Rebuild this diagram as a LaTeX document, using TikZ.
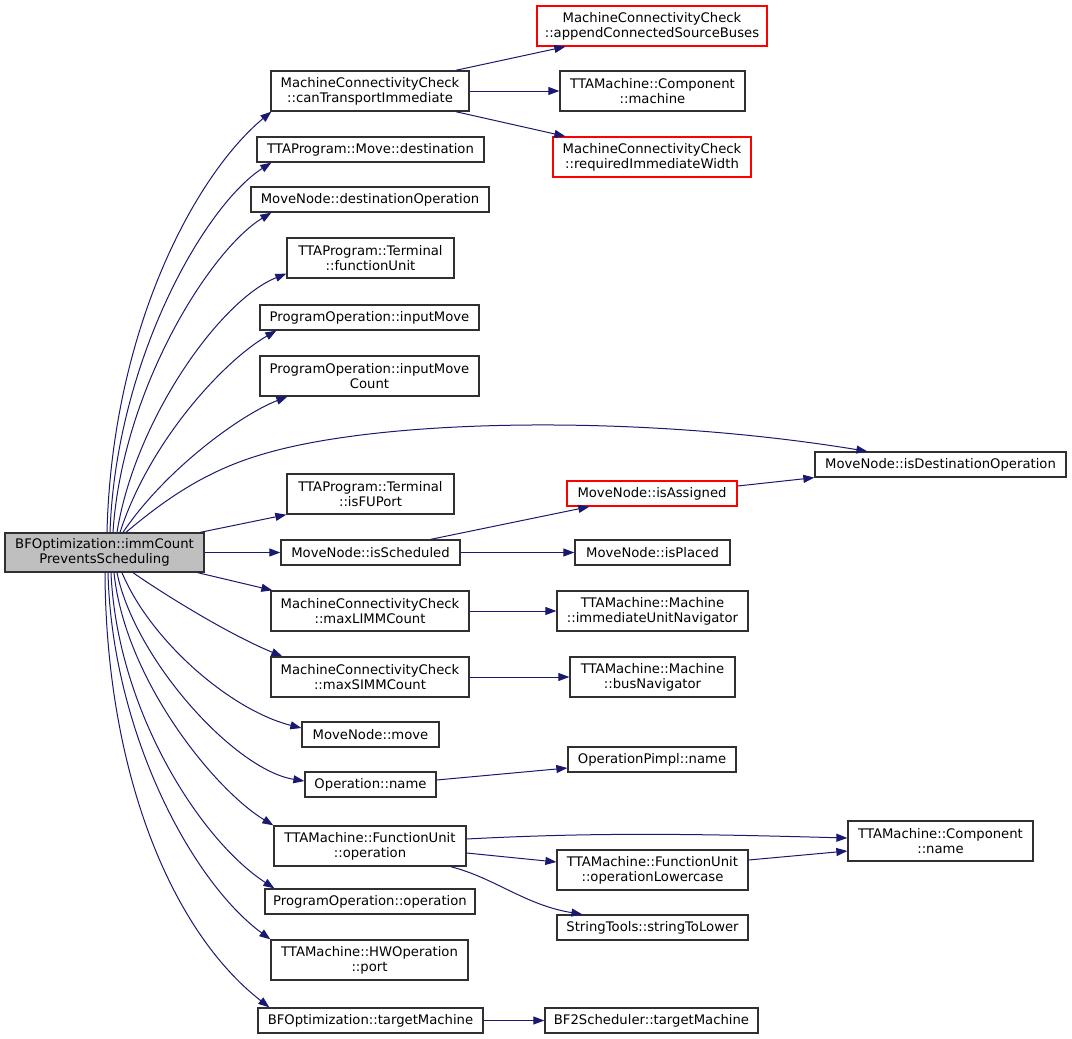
\documentclass[tikz,border=0pt]{standalone}
\usepackage{fontspec}
\setmainfont{DejaVu Sans}
\usetikzlibrary{arrows.meta}
\definecolor{edgec}{HTML}{191970}
\definecolor{boxc}{HTML}{303030}
\definecolor{rootc}{HTML}{BFBFBF}
\begin{document}
\begin{tikzpicture}[x=1pt,y=-1pt,
  box/.style={draw=boxc, line width=1.3pt, fill=white, inner sep=0pt, align=center,
    font=\fontsize{13.2pt}{15pt}\selectfont, text=black},
  redbox/.style={box, draw=red},
  rootbox/.style={box, fill=rootc},
  e/.style={draw=edgec, line width=1pt, -{Triangle[length=11pt,width=8pt]}}]
\useasboundingbox[fill=white] (0,0) rectangle (1072,1039);

% root
\node[rootbox, minimum width=199pt, minimum height=39pt] (root) at (104.5,552.5) {BFOptimization::immCount\\PreventsScheduling};

% middle column
\node[box, minimum width=198pt, minimum height=40pt] (n1) at (370,91) {MachineConnectivityCheck\\::canTransportImmediate};
\node[box, minimum width=227pt, minimum height=25pt] (n2) at (370.5,149.5) {TTAProgram::Move::destination};
\node[box, minimum width=238pt, minimum height=25pt] (n3) at (370,199.5) {MoveNode::destinationOperation};
\node[box, minimum width=167pt, minimum height=40pt] (n4) at (370.5,258) {TTAProgram::Terminal\\::functionUnit};
\node[box, minimum width=219pt, minimum height=25pt] (n5) at (369.5,317.5) {ProgramOperation::inputMove};
\node[box, minimum width=219pt, minimum height=40pt] (n6) at (369.5,376) {ProgramOperation::inputMove\\Count};
\node[box, minimum width=167pt, minimum height=40pt] (n7) at (370.5,494) {TTAProgram::Terminal\\::isFUPort};
\node[box, minimum width=179pt, minimum height=25pt] (n8) at (370.5,552.5) {MoveNode::isScheduled};
\node[box, minimum width=198pt, minimum height=40pt] (n9) at (370,611) {MachineConnectivityCheck\\::maxLIMMCount};
\node[box, minimum width=198pt, minimum height=40pt] (n10) at (370,677) {MachineConnectivityCheck\\::maxSIMMCount};
\node[box, minimum width=137pt, minimum height=25pt] (n11) at (370.5,734.5) {MoveNode::move};
\node[box, minimum width=131pt, minimum height=25pt] (n12) at (370.5,784.5) {Operation::name};
\node[box, minimum width=192pt, minimum height=40pt] (n13) at (370,846) {TTAMachine::FunctionUnit\\::operation};
\node[box, minimum width=210pt, minimum height=25pt] (n14) at (370,901.5) {ProgramOperation::operation};
\node[box, minimum width=197pt, minimum height=40pt] (n15) at (369.5,960) {TTAMachine::HWOperation\\::port};
\node[box, minimum width=225pt, minimum height=25pt] (n16) at (370.5,1020.5) {BFOptimization::targetMachine};

% right column
\node[redbox, minimum width=230pt, minimum height=40pt] (r1) at (652,26) {MachineConnectivityCheck\\::appendConnectedSourceBuses};
\node[box, minimum width=185pt, minimum height=40pt] (r2) at (652.5,91) {TTAMachine::Component\\::machine};
\node[redbox, minimum width=198pt, minimum height=40pt] (r3) at (652,157) {MachineConnectivityCheck\\::requiredImmediateWidth};
\node[redbox, minimum width=170pt, minimum height=25pt] (r4) at (652,493.5) {MoveNode::isAssigned};
\node[box, minimum width=155pt, minimum height=25pt] (r5) at (652.5,552.5) {MoveNode::isPlaced};
\node[box, minimum width=191pt, minimum height=40pt] (r6) at (652.5,611) {TTAMachine::Machine\\::immediateUnitNavigator};
\node[box, minimum width=165pt, minimum height=40pt] (r7) at (652.5,677) {TTAMachine::Machine\\::busNavigator};
\node[box, minimum width=168pt, minimum height=25pt] (r8) at (652,759.5) {OperationPimpl::name};
\node[box, minimum width=191pt, minimum height=40pt] (r9) at (652.5,870) {TTAMachine::FunctionUnit\\::operationLowercase};
\node[box, minimum width=191pt, minimum height=25pt] (r10) at (652.5,927.5) {StringTools::stringToLower};
\node[box, minimum width=213pt, minimum height=25pt] (r11) at (651.5,1020.5) {BF2Scheduler::targetMachine};

% far right
\node[box, minimum width=251pt, minimum height=25pt] (f1) at (940.5,464.5) {MoveNode::isDestinationOperation};
\node[box, minimum width=185pt, minimum height=40pt] (f2) at (940.5,841) {TTAMachine::Component\\::name};

% edges from root, upward
\draw[e] ([xshift=2.5pt]root.north) .. controls (112,330) and (195,175) .. ([xshift=1pt]n1.south west);
\draw[e] ([xshift=5.5pt]root.north) .. controls (116,360) and (205,205) .. ([xshift=15pt]n2.south west);
\draw[e] ([xshift=8.5pt]root.north) .. controls (122,390) and (210,250) .. ([xshift=21pt]n3.south west);
\draw[e] ([xshift=12.5pt]root.north) .. controls (135,420) and (220,300) .. ([yshift=5pt]n4.south west);
\draw[e] ([xshift=15.5pt]root.north) .. controls (150,440) and (225,360) .. ([xshift=17pt]n5.south west);
\draw[e] ([xshift=18.5pt]root.north) .. controls (165,470) and (240,415) .. ([xshift=28pt]n6.south west);
\draw[e] ([xshift=21.5pt]root.north) .. controls (170,495) and (210,470) .. (260,455)
   .. controls (380,418) and (640,414) .. ([xshift=53pt]f1.north west);
\draw[e] ([xshift=-4.5pt]root.north east) -- (n7.south west);
\draw[e] (root.east) -- (n8.west);
\draw[e] ([xshift=-7pt]root.south east) -- ([xshift=2pt]n9.north west);

% edges from root, downward
\draw[e] ([xshift=28.5pt]root.south) .. controls (165,595) and (230,635) .. ([xshift=12pt]n10.north west);
\draw[e] ([xshift=17.5pt]root.south) .. controls (150,640) and (230,710) .. ([yshift=6.5pt]n11.west);
\draw[e] ([xshift=12.5pt]root.south) .. controls (135,660) and (235,770) .. ([yshift=3.5pt]n12.west);
\draw[e] ([xshift=9.5pt]root.south) .. controls (125,680) and (215,790) .. (n13.north west);
\draw[e] ([xshift=6.5pt]root.south) .. controls (117,710) and (200,840) .. ([xshift=10pt]n14.north west);
\draw[e] ([xshift=3.5pt]root.south) .. controls (112,730) and (190,880) .. (n15.north west);
\draw[e] ([xshift=0.5pt]root.south) .. controls (106,770) and (170,930) .. ([xshift=12pt]n16.north west);

% second level
\draw[e] ([xshift=-14pt]n1.north east) -- ([xshift=29pt]r1.south west);
\draw[e] (n1.east) -- (r2.west);
\draw[e] ([xshift=-14pt]n1.south east) -- ([xshift=13pt]r3.north west);
\draw[e] ([xshift=-30pt]n8.north east) -- ([xshift=23pt]r4.south west);
\draw[e] (n8.east) -- (r5.west);
\draw[e] ([yshift=7.5pt]r4.east) -- (f1.south west);
\draw[e] (n9.east) -- (r6.west);
\draw[e] (n10.east) -- (r7.west);
\draw[e] ([yshift=4.5pt]n12.east) -- ([yshift=-8.5pt]r8.west);
\draw[e] ([yshift=7pt]n13.east) .. controls (600,832) and (700,834) .. ([yshift=3pt]f2.west);
\draw[e] ([yshift=-7pt]n13.east) -- ([yshift=8pt]r9.west);
\draw[e] ([xshift=-16pt]n13.south east) .. controls (495,878) and (525,905) .. ([xshift=26pt]r10.north west);
\draw[e] ([yshift=10pt]r9.east) -- ([yshift=-10pt]f2.west);
\draw[e] (n16.east) -- (r11.west);
\end{tikzpicture}
\end{document}
